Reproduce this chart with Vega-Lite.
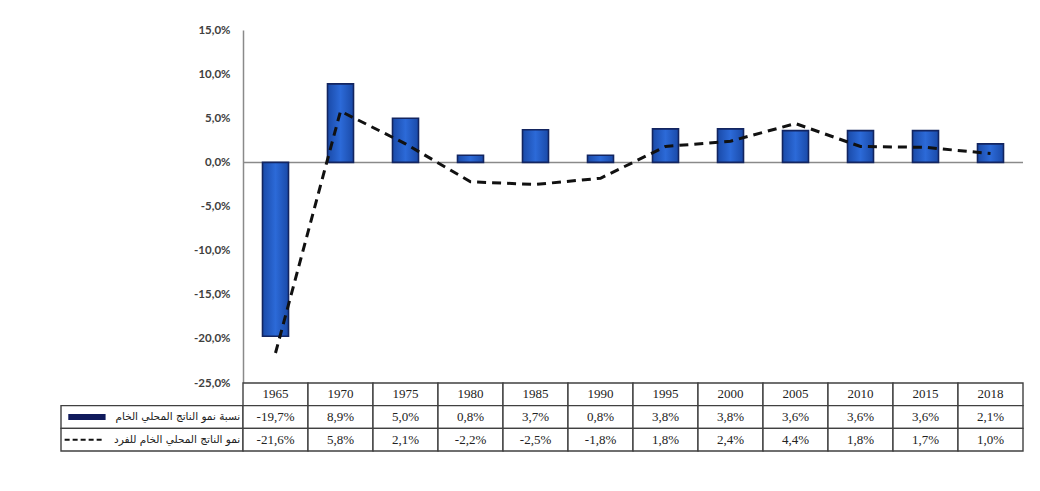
{
  "$schema": "https://vega.github.io/schema/vega-lite/v6.json",
  "padding": {"left": 60, "top": 24, "right": 18, "bottom": 30},
  "background": "white",
  "config": {
    "view": {"stroke": null},
    "locale": {"number": {"decimal": ",", "thousands": ".", "grouping": [3], "currency": ["", " €"], "minus": "-"}}
  },
  "datasets": {
    "growth": [
      {"year": "1965", "gdp": -0.197, "pc": -0.216},
      {"year": "1970", "gdp": 0.089, "pc": 0.058},
      {"year": "1975", "gdp": 0.050, "pc": 0.021},
      {"year": "1980", "gdp": 0.008, "pc": -0.022},
      {"year": "1985", "gdp": 0.037, "pc": -0.025},
      {"year": "1990", "gdp": 0.008, "pc": -0.018},
      {"year": "1995", "gdp": 0.038, "pc": 0.018},
      {"year": "2000", "gdp": 0.038, "pc": 0.024},
      {"year": "2005", "gdp": 0.036, "pc": 0.044},
      {"year": "2010", "gdp": 0.036, "pc": 0.018},
      {"year": "2015", "gdp": 0.036, "pc": 0.017},
      {"year": "2018", "gdp": 0.021, "pc": 0.010}
    ],
    "legend": [
      {"series": "gdp", "label": "نسبة نمو الناتج المحلي الخام"},
      {"series": "pc", "label": "نمو الناتج المحلي الخام للفرد"}
    ]
  },
  "columns": 2,
  "spacing": 0,
  "bounds": "flush",
  "concat": [
    {
      "width": 182,
      "height": 353,
      "data": {"values": [{}]},
      "mark": {"type": "text"},
      "encoding": {"text": {"value": ""}}
    },
    {
      "width": 780,
      "height": 353,
      "data": {"name": "growth"},
      "layer": [
        {
          "data": {"values": [{}]},
          "mark": {"type": "rule", "color": "#8a8a8a", "strokeWidth": 1.5},
          "encoding": {"y": {"datum": 0, "type": "quantitative"}}
        },
        {
          "mark": {
            "type": "bar",
            "fill": {"gradient": "linear", "x1": 0, "x2": 1, "y1": 0, "y2": 0,
              "stops": [{"offset": 0, "color": "#1a4aa8"}, {"offset": 0.5, "color": "#2c6ad8"}, {"offset": 1, "color": "#1a4aa8"}]},
            "stroke": "#132560",
            "strokeWidth": 1.6
          },
          "encoding": {
            "x": {"field": "year", "type": "ordinal", "axis": null, "scale": {"paddingInner": 0.6, "paddingOuter": 0.3}},
            "y": {
              "field": "gdp", "type": "quantitative",
              "scale": {"domain": [-0.25, 0.15], "nice": false},
              "axis": {
                "values": [-0.25, -0.2, -0.15, -0.1, -0.05, 0, 0.05, 0.1, 0.15],
                "format": ".1%",
                "title": null,
                "grid": false,
                "ticks": false,
                "domainColor": "#8a8a8a",
                "domainWidth": 1.5,
                "labelPadding": 13,
                "labelFont": "Lato",
                "labelFontWeight": "bold",
                "labelFontSize": 11.5,
                "labelColor": "#404040"
              }
            }
          }
        },
        {
          "mark": {"type": "line", "color": "#111111", "strokeWidth": 3, "strokeDash": [9, 6]},
          "encoding": {
            "x": {"field": "year", "type": "ordinal"},
            "y": {"field": "pc", "type": "quantitative"}
          }
        }
      ]
    },
    {
      "width": 182,
      "height": 68,
      "data": {"name": "legend"},
      "encoding": {
        "y": {"field": "series", "type": "nominal", "scale": {"domain": ["header", "gdp", "pc"], "padding": 0}, "axis": null}
      },
      "layer": [
        {
          "mark": {"type": "rect", "fill": "white", "stroke": "#404040", "strokeWidth": 1.4},
          "encoding": {
            "x": {"datum": 0, "type": "quantitative", "scale": {"domain": [0, 1]}, "axis": null},
            "x2": {"datum": 1}
          }
        },
        {
          "transform": [{"filter": "datum.series === 'gdp'"}],
          "mark": {"type": "rule", "color": "#101a5c", "strokeWidth": 6},
          "encoding": {"x": {"datum": 0.04, "type": "quantitative"}, "x2": {"datum": 0.245}}
        },
        {
          "transform": [{"filter": "datum.series === 'pc'"}],
          "mark": {"type": "rule", "color": "#111111", "strokeWidth": 2, "strokeDash": [5, 3]},
          "encoding": {"x": {"datum": 0.02, "type": "quantitative"}, "x2": {"datum": 0.23}}
        },
        {
          "mark": {"type": "text", "align": "right", "font": "DejaVu Sans", "fontSize": 10.5, "color": "#222222"},
          "encoding": {"x": {"datum": 0.985, "type": "quantitative"}, "text": {"field": "label"}}
        }
      ]
    },
    {
      "width": 780,
      "height": 68,
      "data": {"name": "growth"},
      "layer": [
        {
          "mark": {"type": "rect", "fill": "white", "stroke": "#404040", "strokeWidth": 1.4},
          "encoding": {
            "x": {"field": "year", "type": "ordinal", "axis": null, "scale": {"padding": 0}},
            "y": {"datum": "header", "type": "nominal", "scale": {"domain": ["header", "gdp", "pc"], "padding": 0}, "axis": null}
          }
        },
        {
          "mark": {"type": "text", "font": "Liberation Serif", "fontSize": 13, "color": "#222222"},
          "encoding": {
            "x": {"field": "year", "type": "ordinal"},
            "y": {"datum": "header", "type": "nominal"},
            "text": {"field": "year"}
          }
        },
        {
          "transform": [{"fold": ["gdp", "pc"], "as": ["series", "value"]}],
          "layer": [
            {
              "mark": {"type": "rect", "fill": "white", "stroke": "#404040", "strokeWidth": 1.4},
              "encoding": {
                "x": {"field": "year", "type": "ordinal"},
                "y": {"field": "series", "type": "nominal"}
              }
            },
            {
              "mark": {"type": "text", "font": "Liberation Serif", "fontSize": 13, "color": "#222222"},
              "encoding": {
                "x": {"field": "year", "type": "ordinal"},
                "y": {"field": "series", "type": "nominal"},
                "text": {"field": "value", "type": "quantitative", "format": ".1%"}
              }
            }
          ]
        }
      ]
    }
  ]
}
